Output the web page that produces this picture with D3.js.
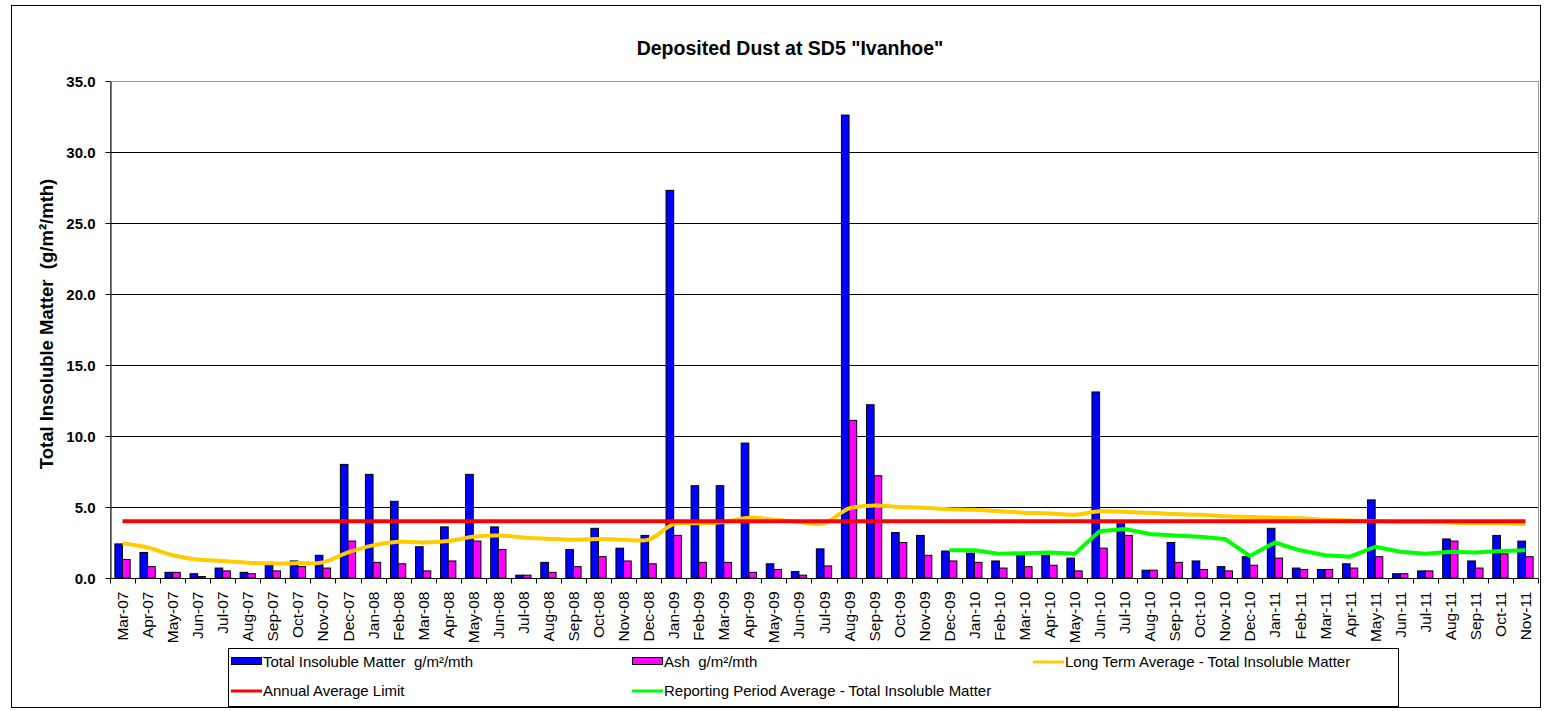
<!DOCTYPE html>
<html>
<head>
<meta charset="utf-8">
<script src="https://cdn.jsdelivr.net/npm/d3@7"></script>
<style>
  body { margin: 0; background: #fff; }
  text { font-family: Arial, "Liberation Sans", sans-serif; white-space: pre; }
</style>
</head>
<body>
<svg id="grafico" width="1544" height="711"></svg>
<script>
// Datos
const months = [
  "Mar-07","Apr-07","May-07","Jun-07","Jul-07","Aug-07","Sep-07","Oct-07","Nov-07","Dec-07",
  "Jan-08","Feb-08","Mar-08","Apr-08","May-08","Jun-08","Jul-08","Aug-08","Sep-08","Oct-08","Nov-08","Dec-08",
  "Jan-09","Feb-09","Mar-09","Apr-09","May-09","Jun-09","Jul-09","Aug-09","Sep-09","Oct-09","Nov-09","Dec-09",
  "Jan-10","Feb-10","Mar-10","Apr-10","May-10","Jun-10","Jul-10","Aug-10","Sep-10","Oct-10","Nov-10","Dec-10",
  "Jan-11","Feb-11","Mar-11","Apr-11","May-11","Jun-11","Jul-11","Aug-11","Sep-11","Oct-11","Nov-11"
];
const totalInsoluble = [
  2.4, 1.8, 0.4, 0.3, 0.7, 0.4, 0.9, 1.2, 1.6, 8.0,
  7.3, 5.4, 2.2, 3.6, 7.3, 3.6, 0.2, 1.1, 2.0, 3.5, 2.1, 3.0,
  27.3, 6.5, 6.5, 9.5, 1.0, 0.45, 2.05, 32.6, 12.2, 3.2, 3.0, 1.9,
  1.75, 1.2, 1.6, 1.6, 1.4, 13.1, 4.0, 0.55, 2.5, 1.2, 0.8, 1.5,
  3.5, 0.7, 0.6, 1.0, 5.5, 0.3, 0.5, 2.75, 1.2, 3.0, 2.6
];
const ash = [
  1.3, 0.8, 0.4, 0.1, 0.5, 0.3, 0.5, 0.8, 0.7, 2.6,
  1.1, 1.0, 0.5, 1.2, 2.6, 2.0, 0.2, 0.4, 0.8, 1.5, 1.2, 1.0,
  3.0, 1.1, 1.1, 0.4, 0.6, 0.2, 0.85, 11.1, 7.2, 2.5, 1.6, 1.2,
  1.1, 0.7, 0.8, 0.9, 0.5, 2.1, 3.0, 0.55, 1.1, 0.6, 0.5, 0.9,
  1.4, 0.6, 0.6, 0.7, 1.5, 0.3, 0.5, 2.6, 0.7, 1.7, 1.5
];
const longTermAvg = [
  2.45, 2.15, 1.6, 1.3, 1.2, 1.08, 1.03, 1.05, 1.1, 1.8,
  2.3, 2.55, 2.5, 2.6, 2.9, 3.0, 2.85, 2.77, 2.7, 2.75, 2.7, 2.7,
  3.8, 3.85, 3.95, 4.25, 4.1, 3.95, 3.85, 4.9, 5.1, 5.0, 4.95, 4.85,
  4.8, 4.7, 4.6, 4.55, 4.45, 4.7, 4.65, 4.6, 4.5, 4.45, 4.35, 4.3,
  4.25, 4.2, 4.1, 4.05, 4.0, 3.95, 3.95, 3.9, 3.85, 3.85, 3.8
];
const annualLimit = months.map(() => 4.0);
const reportingAvg = [
  null, null, null, null, null, null, null, null, null, null,
  null, null, null, null, null, null, null, null, null, null, null, null,
  null, null, null, null, null, null, null, null, null, null, null, 1.95,
  1.95, 1.7, 1.75, 1.8, 1.7, 3.3, 3.45, 3.1, 3.0, 2.9, 2.75, 1.55,
  2.5, 1.95, 1.6, 1.5, 2.2, 1.85, 1.7, 1.85, 1.8, 1.9, 1.95
];
const yTicks = [0, 5, 10, 15, 20, 25, 30, 35];

// Configuracion
const width = 1544, height = 711;
const margin = {top: 81, right: 6, bottom: 133, left: 110};
const svg = d3.select("#grafico");

// marco exterior
svg.append("rect")
  .attr("x", 11.5).attr("y", 5.5)
  .attr("width", 1529).attr("height", 702)
  .attr("fill", "#fff").attr("stroke", "#000").attr("stroke-width", 1);

// Escalas
const x = d3.scaleBand()
  .domain(months)
  .range([margin.left, width - margin.right])
  .padding(0);

const y = d3.scaleLinear()
  .domain([0, 35])
  .range([height - margin.bottom, margin.top]);

const barW = x.bandwidth() * 0.305;

// Rejilla
svg.append("g")
  .selectAll("line")
  .data(yTicks.filter(d => d > 0 && d < 35))
  .join("line")
  .attr("x1", margin.left).attr("x2", width - margin.right)
  .attr("y1", d => Math.round(y(d)) + 0.5).attr("y2", d => Math.round(y(d)) + 0.5)
  .attr("stroke", "#000").attr("stroke-width", 1);

// borde del area
svg.append("rect")
  .attr("x", margin.left + 0.5).attr("y", Math.round(y(35)) + 0.5)
  .attr("width", width - margin.right - margin.left)
  .attr("height", Math.round(y(0)) - Math.round(y(35)))
  .attr("fill", "none").attr("stroke", "#999").attr("stroke-width", 1);

// Barras
svg.append("g")
  .selectAll("rect")
  .data(months)
  .join("rect")
  .attr("x", d => x(d) + x.bandwidth() / 2 - barW)
  .attr("y", (d, i) => y(totalInsoluble[i]))
  .attr("width", barW)
  .attr("height", (d, i) => y(0) - y(totalInsoluble[i]))
  .attr("fill", "#0000FF").attr("stroke", "#000").attr("stroke-width", 1);

svg.append("g")
  .selectAll("rect")
  .data(months)
  .join("rect")
  .attr("x", d => x(d) + x.bandwidth() / 2)
  .attr("y", (d, i) => y(ash[i]))
  .attr("width", barW)
  .attr("height", (d, i) => y(0) - y(ash[i]))
  .attr("fill", "#FF00FF").attr("stroke", "#000").attr("stroke-width", 1);

// Lineas
const cx = i => x(months[i]) + x.bandwidth() / 2;
function drawLine(values, color, curve) {
  const line = d3.line()
    .defined(d => d != null)
    .x((d, i) => cx(i))
    .y(d => y(d))
    .curve(curve);
  svg.append("path")
    .datum(values)
    .attr("d", line)
    .attr("fill", "none")
    .attr("stroke", color)
    .attr("stroke-width", 4)
    .attr("stroke-linejoin", "round");
}
drawLine(longTermAvg, "#FFCC00", d3.curveCatmullRom.alpha(0.5));
drawLine(annualLimit, "#FF0000", d3.curveLinear);
drawLine(reportingAvg, "#00FF00", d3.curveLinear);

// Ejes
const yAxis = svg.append("g")
  .attr("transform", `translate(${margin.left + 0.5},0)`)
  .call(d3.axisLeft(y).tickValues(yTicks).tickFormat(d3.format(".1f")).tickSize(5).tickSizeOuter(0));
yAxis.select(".domain").attr("stroke", "#000");
yAxis.selectAll("text")
  .attr("font-size", 15).attr("font-weight", "bold").attr("fill", "#000")
  .attr("x", -15).attr("dy", "0.35em");

const xAxisG = svg.append("g")
  .attr("transform", `translate(0,${Math.round(y(0)) + 0.5})`);
xAxisG.append("line")
  .attr("x1", margin.left).attr("x2", width - margin.right)
  .attr("stroke", "#000");
xAxisG.selectAll("line.tk")
  .data(months.concat(["__end"]))
  .join("line")
  .attr("class", "tk")
  .attr("x1", (d, i) => Math.round(i < months.length ? x(d) : width - margin.right) + 0.5)
  .attr("x2", (d, i) => Math.round(i < months.length ? x(d) : width - margin.right) + 0.5)
  .attr("y1", 0).attr("y2", 5)
  .attr("stroke", "#000");
xAxisG.selectAll("text")
  .data(months)
  .join("text")
  .attr("transform", d => `translate(${x(d) + x.bandwidth() / 2 + 5.5},13) rotate(-90)`)
  .attr("text-anchor", "end")
  .attr("font-size", 15.5)
  .attr("fill", "#000")
  .text(d => d);

// Titulos
svg.append("text")
  .attr("x", 790).attr("y", 55)
  .attr("text-anchor", "middle")
  .attr("font-size", 19.5).attr("font-weight", "bold")
  .text('Deposited Dust at SD5 "Ivanhoe"');

svg.append("text")
  .attr("transform", "translate(53,324) rotate(-90)")
  .attr("text-anchor", "middle")
  .attr("font-size", 18.5).attr("font-weight", "bold")
  .text("Total Insoluble Matter  (g/m\u00B2/mth)");

// Leyenda
const legend = svg.append("g");
legend.append("rect")
  .attr("x", 228.5).attr("y", 648.5).attr("width", 1170).attr("height", 58)
  .attr("fill", "#fff").attr("stroke", "#000");
const legendItems = [
  {label: "Total Insoluble Matter  g/m\u00B2/mth", type: "bar", color: "#0000FF", col: 0, row: 0},
  {label: "Ash  g/m\u00B2/mth", type: "bar", color: "#FF00FF", col: 1, row: 0},
  {label: "Long Term Average - Total Insoluble Matter", type: "line", color: "#FFCC00", col: 2, row: 0},
  {label: "Annual Average Limit", type: "line", color: "#FF0000", col: 0, row: 1},
  {label: "Reporting Period Average - Total Insoluble Matter", type: "line", color: "#00FF00", col: 1, row: 1}
];
const colX = [231, 632, 1033];
const rowY = [662, 691];
legendItems.forEach(it => {
  const lx = colX[it.col], ly = rowY[it.row];
  if (it.type === "bar") {
    legend.append("rect")
      .attr("x", lx + 0.5).attr("y", ly - 4.5).attr("width", 30).attr("height", 7)
      .attr("fill", it.color).attr("stroke", "#000");
  } else {
    legend.append("line")
      .attr("x1", lx).attr("x2", lx + 31).attr("y1", ly).attr("y2", ly)
      .attr("stroke", it.color).attr("stroke-width", 3);
  }
  legend.append("text")
    .attr("x", lx + 32).attr("y", ly).attr("dy", "0.35em")
    .attr("font-size", 15)
    .text(it.label);
});
</script>
</body>
</html>
